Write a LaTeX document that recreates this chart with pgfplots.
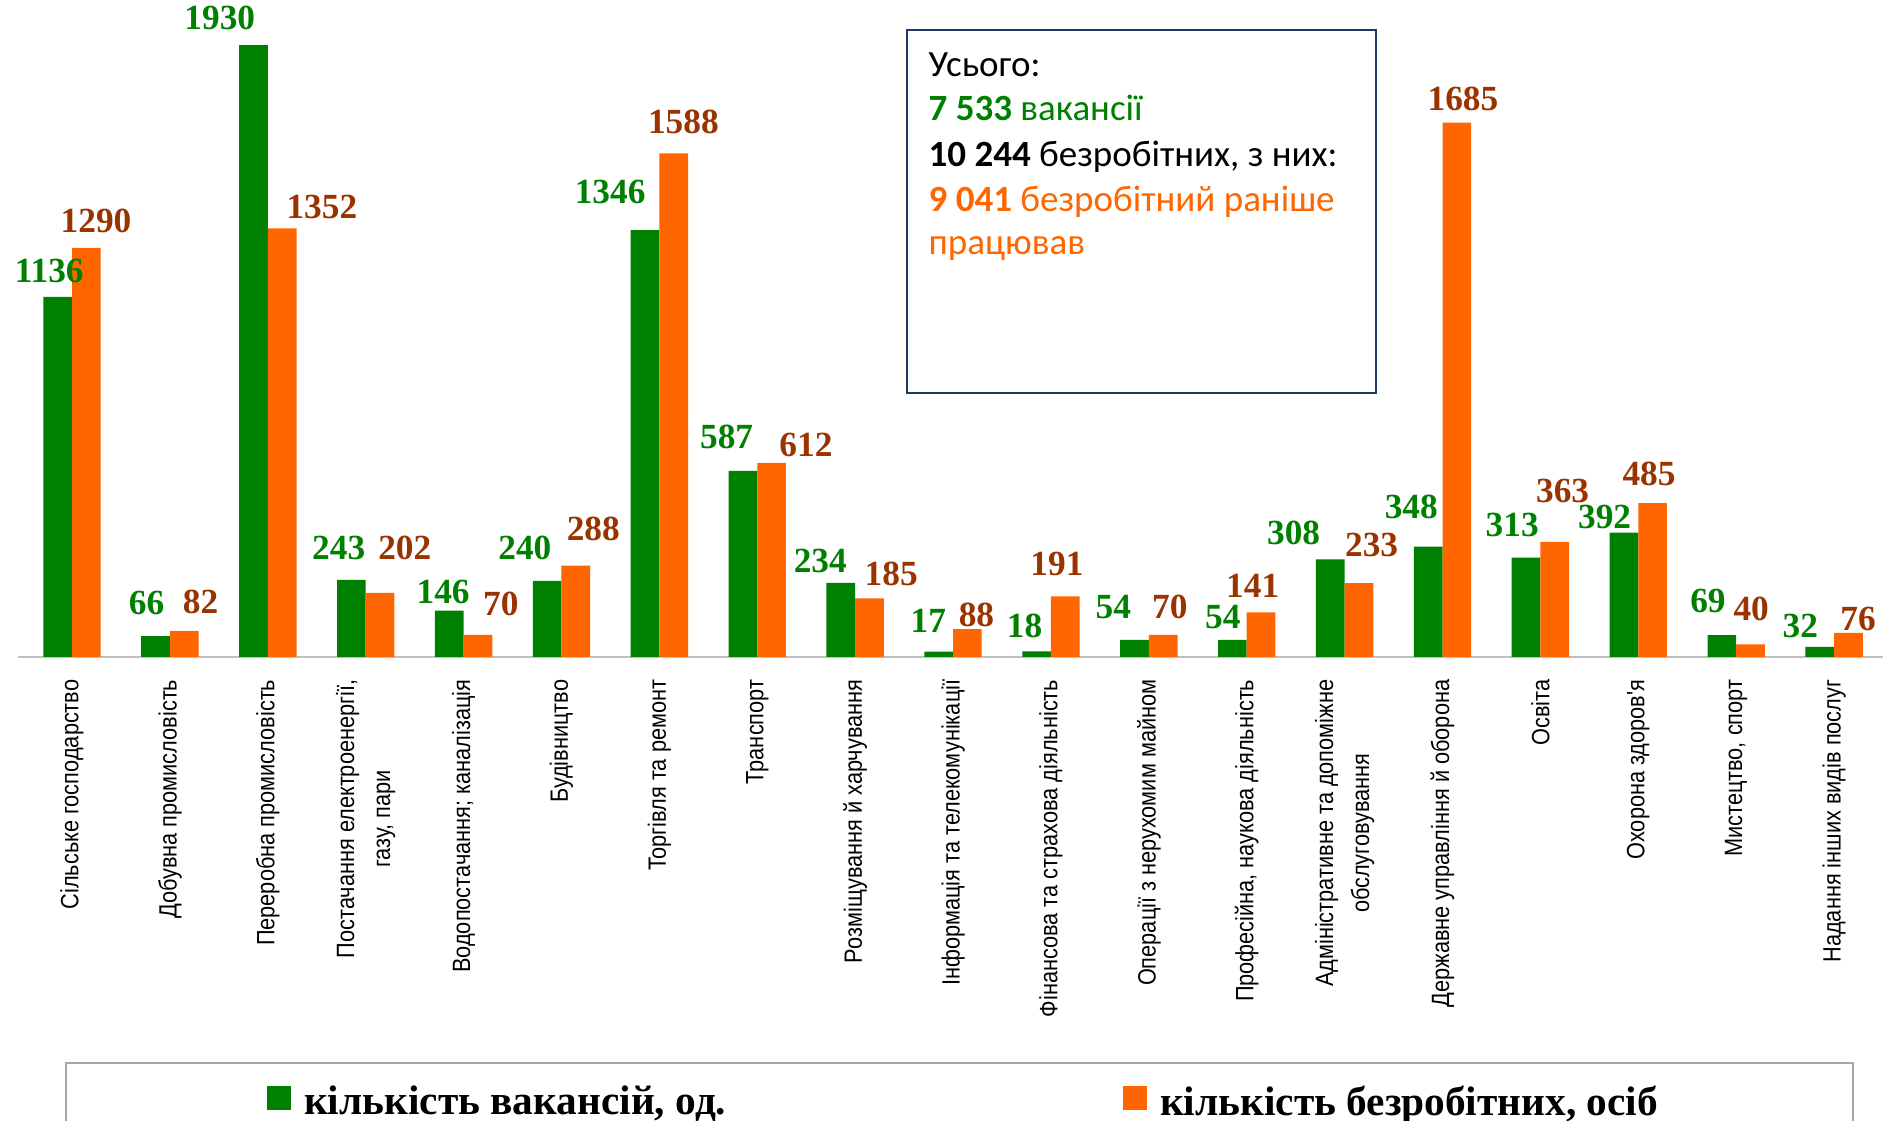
\documentclass[border=0pt]{standalone}
\usepackage{fontspec}
\setmainfont{Liberation Sans}
\newfontfamily\narrowsans[FakeStretch=0.87]{Liberation Sans}
\newfontfamily\tnr{Liberation Serif}
\newfontfamily\carlito{Carlito}
\usepackage{pgfplots}
\pgfplotsset{compat=1.18}
\definecolor{grn}{RGB}{0,128,0}
\definecolor{org}{RGB}{255,102,0}
\definecolor{brn}{RGB}{153,51,0}
\definecolor{navy}{RGB}{32,56,100}
\newcommand\lblfont{\tnr\bfseries\fontsize{10.6}{12}\selectfont}
\begin{document}
\begin{tikzpicture}
\useasboundingbox (-5.4pt,-139.2pt) rectangle (559.5pt,197.1pt);
\begin{axis}[
 scale only axis, width=559.5pt, height=197.1pt,
 xmin=-0.552, xmax=18.5, ymin=0, ymax=2072,
 axis x line*=bottom, hide y axis,
 axis line style={draw=black!25, line width=0.6pt},
 clip=false,
 xtick={0,...,18}, major tick length=0pt,
 xticklabels={Сільське господарство, Добувна промисловість, Переробна промисловість,
   {Постачання електроенергії,\\газу, пари}, {Водопостачання; каналізація}, Будівництво,
   Торгівля та ремонт, Транспорт, Розміщування й харчування, Інформація та телекомунікації,
   Фінансова та страхова діяльність, Операції з нерухомим майном, {Професійна, наукова діяльність},
   {Адміністративне та допоміжне\\обслуговування}, Державне управління й оборона, Освіта,
   Охорона здоров'я, {Мистецтво, спорт}, Надання інших видів послуг},
 xticklabel style={rotate=90, anchor=east, align=center, inner sep=0pt, font=\narrowsans\fontsize{7.5}{10.8}\selectfont},
 xticklabel shift=6.6pt,
 legend columns=2,
 legend style={at={(0.133,-0.679)}, anchor=west, draw=none, fill=none, inner sep=0pt,
   nodes={inner sep=0pt}, font=\tnr\bfseries\fontsize{12.4}{14}\selectfont,
   /tikz/every odd column/.append style={column sep=4pt}},
]
\addplot[ybar, bar width=0.293, bar shift=-0.1465, fill=grn, draw=none,
  legend image code/.code={\fill[grn] (0pt,-2pt) rectangle (7.2pt,5.2pt);}]
 coordinates {(0,1136) (1,66) (2,1930) (3,243) (4,146) (5,240) (6,1346) (7,587) (8,234) (9,17)
  (10,18) (11,54) (12,54) (13,308) (14,348) (15,313) (16,392) (17,69) (18,32)};
\addlegendentry{\makebox[245.6pt][l]{кількість вакансій, од.}}
\addplot[ybar, bar width=0.293, bar shift=0.1465, fill=org, draw=none,
  legend image code/.code={\fill[org] (0pt,-2pt) rectangle (7.2pt,5.2pt);}]
 coordinates {(0,1290) (1,82) (2,1352) (3,202) (4,70) (5,288) (6,1588) (7,612) (8,185) (9,88)
  (10,191) (11,70) (12,141) (13,233) (14,1685) (15,363) (16,485) (17,40) (18,76)};
\addlegendentry{кількість безробітних, осіб}
\addplot[draw=none, mark=none, forget plot, nodes near coords, point meta=explicit symbolic,
  nodes near coords style={anchor=center, font=\lblfont, text=grn, inner sep=0pt}]
 table[meta=lab] {
x y lab
-0.233 1216 1136
0.761 170 66
1.509 2015 1930
2.724 345 243
3.791 205 146
4.626 345 240
5.497 1466 1346
6.687 693 587
7.644 303 234
8.748 114 17
9.730 98 18
10.638 159 54
11.755 125 54
12.479 390 308
13.681 473 348
14.712 417 313
15.656 443 392
16.712 178 69
17.656 98 32
};
\addplot[draw=none, mark=none, forget plot, nodes near coords, point meta=explicit symbolic,
  nodes near coords style={anchor=center, font=\lblfont, text=brn, inner sep=0pt}]
 table[meta=lab] {
x y lab
0.245 1375 1290
1.313 174 82
2.552 1420 1352
3.399 345 202
4.380 167 70
5.325 405 288
6.245 1686 1588
7.497 670 612
8.368 261 185
9.239 133 88
10.061 292 191
11.215 159 70
12.061 223 141
13.276 352 233
14.209 1761 1685
15.227 523 363
16.110 576 485
17.153 152 40
18.245 121 76
};
\end{axis}
\draw[navy, line width=0.6pt] (266.6pt,79.3pt) rectangle (407.5pt,188.1pt);
\begin{scope}[every node/.style={anchor=base west, inner sep=0pt, font=\carlito\fontsize{11.1}{13}\selectfont}]
\node at (273pt,174.2pt) {Усього:};
\node[text=grn] at (273pt,160.8pt) {\textbf{7 533} вакансії};
\node at (273pt,147.2pt) {\textbf{10 244} безробітних, з них:};
\node[text=org] at (273pt,133.6pt) {\textbf{9 041} безробітний раніше};
\node[text=org] at (273pt,120.6pt) {працював};
\end{scope}
\draw[black!35, line width=0.6pt] (14.4pt,-145pt) -- (14.4pt,-121.8pt) -- (550.5pt,-121.8pt) -- (550.5pt,-145pt);
\end{tikzpicture}
\end{document}
